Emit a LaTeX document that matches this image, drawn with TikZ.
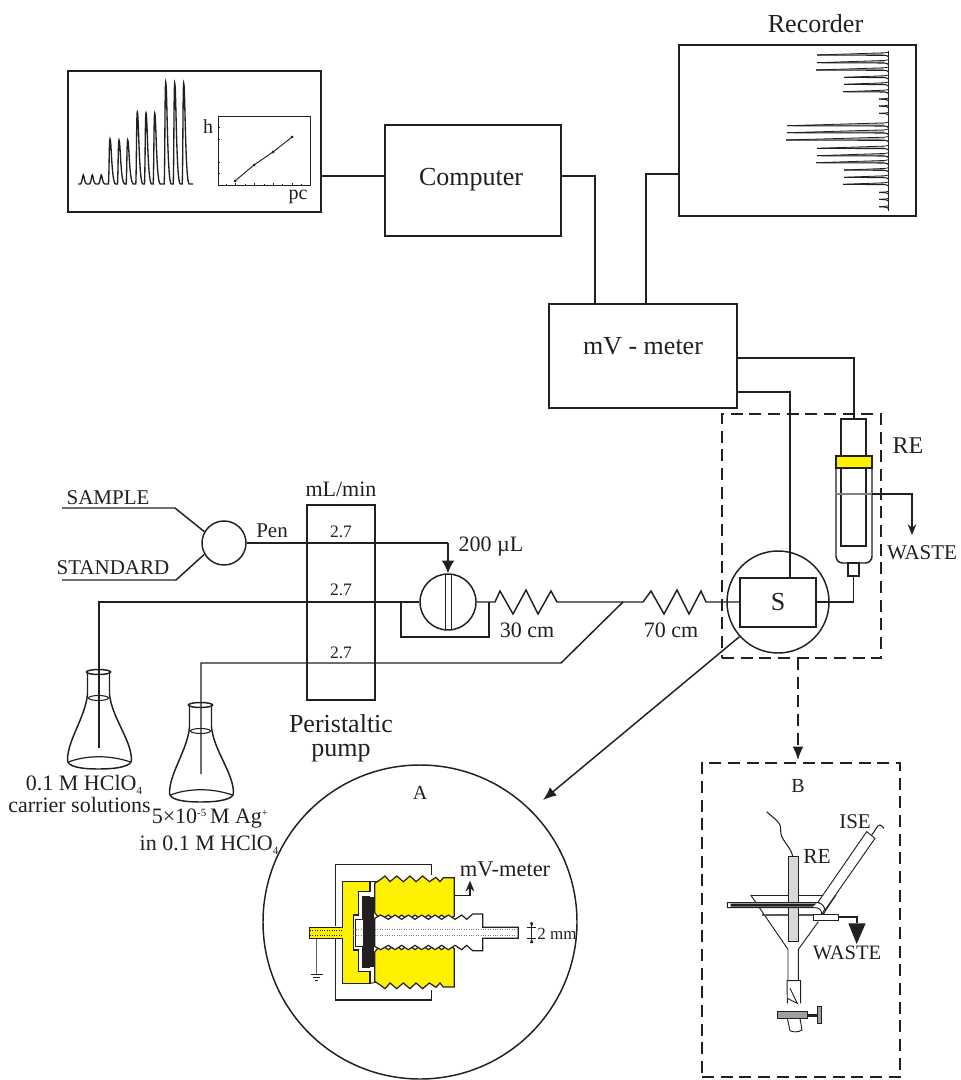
\documentclass[tikz,border=0pt]{standalone}
\usepackage{fontspec}
\setmainfont{Liberation Serif}
\usetikzlibrary{arrows.meta}
\definecolor{ink}{HTML}{231F20}
\definecolor{yel}{HTML}{FFF200}
\definecolor{gr}{HTML}{D8D8D8}
\newcommand{\fsz}[1]{\fontsize{\fpxv{#1}}{\fpxv{#1}}\selectfont}
\newcommand{\fpxv}[1]{\the\dimexpr #1pt*3/4\relax}
\newcommand{\supx}[1]{\raisebox{5.5pt}{\fsz{11}#1}}
\newcommand{\subx}[1]{\raisebox{-3pt}{\fsz{11}#1}}
\tikzset{
  lin/.style={draw=ink,line width=1.1pt},
  thin line/.style={draw=ink,line width=.7pt},
  boxn/.style={draw=ink,line width=1.1pt,fill=white,inner sep=0pt,text=ink},
  lab/.style={inner sep=0pt,text=ink,align=center},
  tip/.style={-{Stealth[length=8pt,width=6.5pt,inset=2.5pt]}},
  flask/.pic={
    \draw[ink,line width=1.1pt,fill=white] (-11,0) -- (-11,22) .. controls (-13,45) and (-31,68) .. (-31,88)
      .. controls (-31,94) and (-20,97) .. (0,97) .. controls (20,97) and (33,94) .. (33,88)
      .. controls (33,68) and (13,45) .. (11,22) -- (11,0);
    \draw[ink,line width=1.1pt] (0,0) ellipse (12 and 2.5);
    \draw[ink,line width=.8pt] (0,26) ellipse (10 and 2.5);
    \draw[ink,line width=.9pt] (-30,90) .. controls (-12,83) and (12,83) .. (32,90);
  }
}
\begin{document}
\begin{tikzpicture}[x=.75pt,y=-.75pt]
\useasboundingbox (0,0) rectangle (960,1080);

% ---- top boxes
\node[boxn,minimum width=253*.75pt,minimum height=141*.75pt] (left) at (194.5,141.5) {};
\node[boxn,minimum width=176*.75pt,minimum height=111*.75pt] (comp) at (473,180.5) {};
\node[lab] (compl) at (471,180) {\fsz{26}Computer};
\node[boxn,minimum width=237*.75pt,minimum height=171*.75pt] (rec) at (797.5,130.5) {};
\node[boxn,minimum width=188*.75pt,minimum height=104*.75pt] (mv) at (643,356) {};
\node[lab] (mvl) at (643,346) {\fsz{26}mV - meter};
\node[lab] (rect) at (815.5,24) {\fsz{26}Recorder};

\coordinate (c1) at (595,176);
\coordinate (c2) at (646,174);
\draw[lin] (comp.west |- c1) -- (left.east |- c1);
\draw[lin] (comp.east |- c1) -- (c1) -- (c1 |- mv.north);
\draw[lin] (c2 |- mv.north) -- (c2) -- (rec.west |- c2);

% ---- chromatogram
\draw[ink,line width=1pt] (78,184)
 foreach \x/\t in {83.3/175,92.3/175,101.3/175} {
   -- (\x-3,184) .. controls (\x-1,184) and (\x-1,\t) .. (\x,\t) .. controls (\x+1,\t) and (\x+1,184) .. (\x+3.5,184)
 }
 foreach \x/\t in {110/139,119/140,127.7/140,137.3/112,146/113,154.7/113,165.7/82,174.7/83,183.7/83} {
   -- (\x-1.5,184) .. controls (\x-.8,170) and (\x-.8,\t) .. (\x,\t) .. controls (\x+1.4,\t) and (\x+1.5,182) .. (\x+5.5,184)
 } -- (193,184);
% inset plot
\node[draw=ink,line width=.7pt,inner sep=0pt,minimum width=92*.75pt,minimum height=69*.75pt] (inset) at (264,150.5) {};
\foreach \y in {127,139,162,173} \draw[thin line,line width=.5pt] (218,\y) -- (220,\y);
\foreach \x in {235,254,273,292} \draw[thin line,line width=.5pt] (\x,185) -- (\x,183);
\foreach \x in {226,245,264,282,301} \draw[thin line,line width=.4pt] (\x,185) -- (\x,184);
\coordinate (p1) at (235,181); \coordinate (p2) at (254,165); \coordinate (p3) at (273,152); \coordinate (p4) at (292,137);
\draw[thin line] (p1) -- (p2) -- (p3) -- (p4);
\foreach \p in {p1,p2,p3,p4} \fill[ink] (\p) circle (1.5);
\node[lab] (hl) at (208,127) {\fsz{20}h};
\node[lab] (pcl) at (298,197) {\fsz{20}pc};

% ---- recorder trace
\draw[ink,line width=.6pt] (888.5,51) -- (888.5,211);
\foreach \y/\t/\r in {55/817/2.2,62.7/817/2.2,70/816/2.2,77.3/844/1.5,84.3/844/1.5,91.7/843/1.5,99/879/.2,106/879/.2,113.3/879/.2,125.7/787/2.8,132.7/787/2.8,140/786/2.8,148.3/817/2.2,155.7/817/2.2,162.7/816/2.2,170/844/1.5,177.3/844/1.5,184.3/843/1.5,192.3/879/.2,199.3/879/.2,206.7/879/.2} {
  \fill[gray!55] (\t,\y) -- (884,\y-\r) -- (884,\y+.3) -- cycle;
  \draw[ink,line width=.6pt] (\t,\y) -- (884,\y-\r) .. controls (886,\y-\r-.2) and (888,\y-\r-.4) .. (888.5,\y-\r-1);
  \draw[ink,line width=.8pt] (\t,\y) -- (884,\y+.3) .. controls (886,\y+.4) and (888,\y+.6) .. (888.5,\y+2);
}

% ---- middle: selector and pump
\node[boxn,circle,minimum size=44*.75pt] (sel) at (224,543) {};
\coordinate (sa) at (62,508); \coordinate (sb) at (175,508);
\coordinate (st) at (62,580); \coordinate (su) at (176,580);
\draw[lin] (sa) -- (sb) -- (sel.150);
\draw[lin] (st) -- (su) -- (sel.210);
\node[lab] (sampl) at (108,497.5) {\fsz{21}SAMPLE};
\node[lab] (stand) at (113,568) {\fsz{21}STANDARD};
\node[lab] (pen) at (272,531) {\fsz{21}Pen};

\node[boxn,fill=none,minimum width=68*.75pt,minimum height=195*.75pt] (pump) at (341,602.5) {};
\node[lab] (mlm) at (341,489) {\fsz{22}mL/min};
\node[lab] at (341,532) {\fsz{17.5}2.7};
\node[lab] at (341,590) {\fsz{17.5}2.7};
\node[lab] at (341,653) {\fsz{17.5}2.7};
\node[lab] (pp1) at (341,724) {\fsz{26}Peristaltic};
\node[lab] (pp2) at (341,753) {\fsz{26}pump};

% valve
\node[boxn,circle,minimum size=56*.75pt] (valve) at (448,602) {};
\coordinate (vt) at (448,543);
\draw[lin] (sel.east) -- (vt);
\draw[lin,-{Latex[length=9.5pt,width=9.5pt]}] (vt) -- (valve.north);
\draw[lin] (445.7,575) -- (445.7,629);
\draw[lin] (451.7,574.5) -- (451.7,629);
\coordinate (by1) at (401,602); \coordinate (by2) at (489,602);
\draw[lin] (by1) -- (401,637) -- (489,637) -- (by2);
\node[lab] (ul) at (491,547) {\fsz{22}200 µL};

% flasks
\pic at (98.5,672) {flask};
\pic at (200.5,705) {flask};
\coordinate (f1) at (99,602); \coordinate (f1e) at (99,748);
\coordinate (f2) at (201,663); \coordinate (f2e) at (201,774);
\draw[lin] (f1e) -- (f1) -- (valve.west |- f1);
\draw[lin] (valve.east) -- (495,602)
  -- (500,591) -- (513,614) -- (526,590) -- (538,614) -- (551,591) -- (557,602) -- (643,602)
  -- (651,591) -- (664,614) -- (677,590) -- (689,614) -- (701,591) -- (706,602) -- (740,602);
\coordinate (j) at (623,602);
\draw[lin] (f2e) -- (f2) -- (561,663) -- (j);
\node[lab] (r30) at (527,630) {\fsz{22}30 cm};
\node[lab] (r70) at (671,630) {\fsz{22}70 cm};

\node[lab] (fl1a) at (84,785) {\fsz{22}0.1 M HClO\subx{4}};
\node[lab] (fl1b) at (79.5,805) {\fsz{22}carrier solutions};
\node[lab] (fl2a) at (210,819) {\fsz{22}5×10\supx{-5}\,M Ag\supx{+}};
\node[lab] (fl2b) at (209,845) {\fsz{22}in 0.1 M HClO\subx{4}};

% ---- dashed region, S, RE
\node[draw=ink,line width=1.1pt,dash pattern=on 9pt off 5pt,inner sep=0pt,minimum width=159*.75pt,minimum height=244*.75pt] (dbox) at (801.5,536) {};
\node[boxn,fill=none,circle,minimum size=102*.75pt] (scir) at (778,602) {};
\node[boxn,fill=none,minimum width=76*.75pt,minimum height=49*.75pt] (S) at (778,602.5) {\fsz{26}S};
\draw[lin] (mv.east |- 0,392) -- (790,392) -- (790,578);
% RE cell
\draw[lin,rounded corners=5pt] (836,468) -- (836,563) -- (872,563) -- (872,468);
\node[boxn,fill=none,minimum width=25*.75pt,minimum height=127*.75pt] (retube) at (853.5,482.5) {};
\node[boxn,fill=yel,minimum width=36*.75pt,minimum height=12*.75pt] (reband) at (854,462) {};
\node[boxn,minimum width=11*.75pt,minimum height=13*.75pt] (reneck) at (853.5,569.5) {};
\draw[lin] (mv.east |- 0,358) -- (854,358) -- (854,419);
\draw[lin] (reneck.south) -- (853.5,602) -- (S.east |- 0,602);
\draw[draw=gray,line width=.9pt] (836,494) -- (872,494);
\draw[lin,tip] (872,494) -- (912,494) -- (912,535);
\node[lab] (rel) at (908,446) {\fsz{24}RE};
\node[lab] (wl) at (922,553) {\fsz{21}WASTE};

% arrows to details
\node[draw=ink,line width=1.1pt,circle,inner sep=0pt,minimum size=314*.75pt] (A) at (420,922) {};
\draw[lin,-{Latex[length=10pt,width=8pt]}] (scir.222) -- (543,800);
\node[draw=ink,line width=1.1pt,dash pattern=on 9pt off 5pt,inner sep=0pt,minimum width=198*.75pt,minimum height=314*.75pt] (B) at (801,920) {};
\draw[lin,dash pattern=on 9pt off 5pt,-{Latex[length=10pt,width=8pt]}] (798,658) -- (798,760);
\node[lab] at (420,793) {\fsz{20}A};
\node[lab] at (798,786) {\fsz{20}B};

% ---- detail A (zoom coordinates x/3+290, y/3+840)
\begin{scope}[shift={(290,840)},x=.25pt,y=-.25pt]
  \draw[lin,line width=.9pt] (424,105) -- (424,74) -- (137,74) -- (137,258);
  \draw[lin,line width=.9pt] (137,296) -- (137,480) -- (424,480) -- (424,450);
  \draw[draw=gray!80!black,line width=.7pt] (80,295) -- (80,402);
  \draw[ink,line width=.7pt] (63,404) -- (98,404) (70,412) -- (91,412) (76,420) -- (85,420);
  \filldraw[fill=yel,draw=ink,line width=.9pt] (158,125) -- (240,125) -- (240,155) -- (205,155) -- (205,225) -- (190,225) -- (190,330) -- (205,330) -- (205,395) -- (240,395) -- (240,430) -- (158,430) -- (158,295) -- (58,295) -- (58,262) -- (158,262) -- cycle;
  \draw[ink,line width=.7pt] (240,125) -- (272,125) (240,430) -- (272,425);
  \draw[ink,line width=.7pt] (240,170) -- (218,170) -- (218,238) -- (195,238) -- (195,320) -- (218,320) -- (218,382) -- (240,382);
  \filldraw[fill=yel,draw=ink,line width=.9pt] (254,130) -- (272,118) -- (285,108) -- (300,125) -- (320,108) -- (340,125) -- (360,108) -- (378,125) -- (398,108) -- (418,125) -- (438,112) -- (450,125) -- (460,113) -- (493,113) -- (493,228) -- (475,240) -- (455,225) -- (435,240) -- (415,225) -- (395,240) -- (375,225) -- (355,240) -- (335,225) -- (315,240) -- (295,225) -- (272,240) -- (254,218) -- cycle;
  \filldraw[fill=yel,draw=ink,line width=.9pt] (254,424) -- (272,436) -- (285,446) -- (300,429) -- (320,446) -- (340,429) -- (360,446) -- (378,429) -- (398,446) -- (418,429) -- (438,442) -- (450,429) -- (460,441) -- (493,441) -- (493,326) -- (475,314) -- (455,329) -- (435,314) -- (415,329) -- (395,314) -- (375,329) -- (355,314) -- (335,329) -- (315,314) -- (295,329) -- (272,314) -- (254,336) -- cycle;
  \filldraw[fill=white,draw=ink,line width=.9pt] (254,235) -- (272,225) -- (295,238) -- (315,225) -- (335,238) -- (355,225) -- (375,238) -- (395,225) -- (415,238) -- (435,225) -- (455,238) -- (475,225) -- (495,238) -- (515,225) -- (530,238) -- (548,222) -- (578,222) -- (578,262) -- (685,262) -- (685,295) -- (578,295) -- (578,332) -- (548,332) -- (530,316) -- (515,329) -- (495,316) -- (475,329) -- (455,316) -- (435,329) -- (415,316) -- (395,329) -- (375,316) -- (355,329) -- (335,316) -- (315,329) -- (295,316) -- (272,329) -- (254,319) -- cycle;
  \draw[draw=gray,line width=.8pt,densely dotted] (190,269) -- (682,269) (190,286) -- (682,286);
  \draw[ink,line width=.8pt,densely dotted] (60,272) -- (160,272) (60,286) -- (160,286);
  \fill[ink] (218,172) -- (252,172) -- (252,382) -- (218,382) -- cycle;
  \draw[lin,tip] (493,167) -- (540,167) -- (540,122);
  \draw[ink,line width=.7pt] (725,245) -- (725,310);
  \draw[ink,line width=.7pt] (710,262) -- (738,262) (710,295) -- (738,295);
  \fill[ink] (725,262) -- (720,248) -- (730,248) -- cycle (725,295) -- (720,309) -- (730,309) -- cycle;
\end{scope}
\node[lab] (mvm) at (505,869) {\fsz{22.5}mV-meter};
\node[lab] (mm) at (557,934) {\fsz{17}2 mm};

% ---- detail B (zoom coordinates x/3+710, y/3+790)
\begin{scope}[shift={(710,790)},x=.25pt,y=-.25pt]
  \draw[ink,line width=.7pt] (122,315) -- (378,315);
  \draw[ink,line width=.7pt] (122,315) -- (234,478) -- (234,572);
  \draw[ink,line width=.7pt] (325,395) -- (265,478) -- (265,572);
  \draw[ink,line width=.7pt] (378,315) -- (340,372);
  \draw[draw=gray!70!black,line width=.8pt] (155,375) -- (310,375);
  \filldraw[fill=gr,draw=ink,line width=.7pt] (234,198) rectangle (266,455);
  \draw[ink,line width=.8pt] (248,198) .. controls (240,165) and (210,150) .. (212,120) .. controls (214,95) and (190,85) .. (170,65);
  \filldraw[fill=white,draw=ink,line width=.7pt] (325,335) -- (470,125) -- (495,145) -- (345,360) -- cycle;
  \draw[ink,line width=.8pt] (485,135) .. controls (495,125) and (500,105) .. (510,105) .. controls (515,105) and (517,112) .. (522,115);
  \draw[ink,line width=.7pt] (345,368) -- (335,372);
  \filldraw[fill=white,draw=ink,line width=.7pt] (52,338) -- (310,338) .. controls (325,335) and (340,340) .. (345,358) -- (335,372) .. controls (335,358) and (325,352) .. (312,353) -- (52,353) -- cycle;
  \fill[ink] (62,341) -- (308,341) -- (320,340) -- (308,350) -- (62,350) -- cycle;
  \filldraw[fill=white,draw=ink,line width=.7pt] (310,373) rectangle (385,392);
  \draw[ink,line width=1.6pt] (385,381) -- (440,381) -- (440,400);
  \fill[ink] (415,400) -- (467,400) -- (440,462) -- cycle;
  \draw[ink,line width=.7pt] (232,640) -- (231,572) -- (272,572) -- (272,640);
  \draw[ink,line width=.7pt] (240,595) -- (262,640) -- (232,625);
  \draw[ink,line width=.7pt] (232,685) -- (240,722) .. controls (250,727) and (265,727) .. (276,720) -- (270,685);
  \filldraw[fill=gray!75,draw=ink,line width=.6pt] (203,665) rectangle (293,685);
  \fill[ink] (293,672) rectangle (325,681);
  \filldraw[fill=gray!75,draw=ink,line width=.6pt] (323,648) rectangle (333,700);
\end{scope}
\node[lab] (rel2) at (817,856) {\fsz{21.5}RE};
\node[lab] (ise) at (855,822) {\fsz{21}ISE};
\node[lab] (wl2) at (847,953) {\fsz{20.5}WASTE};
\end{tikzpicture}
\end{document}
